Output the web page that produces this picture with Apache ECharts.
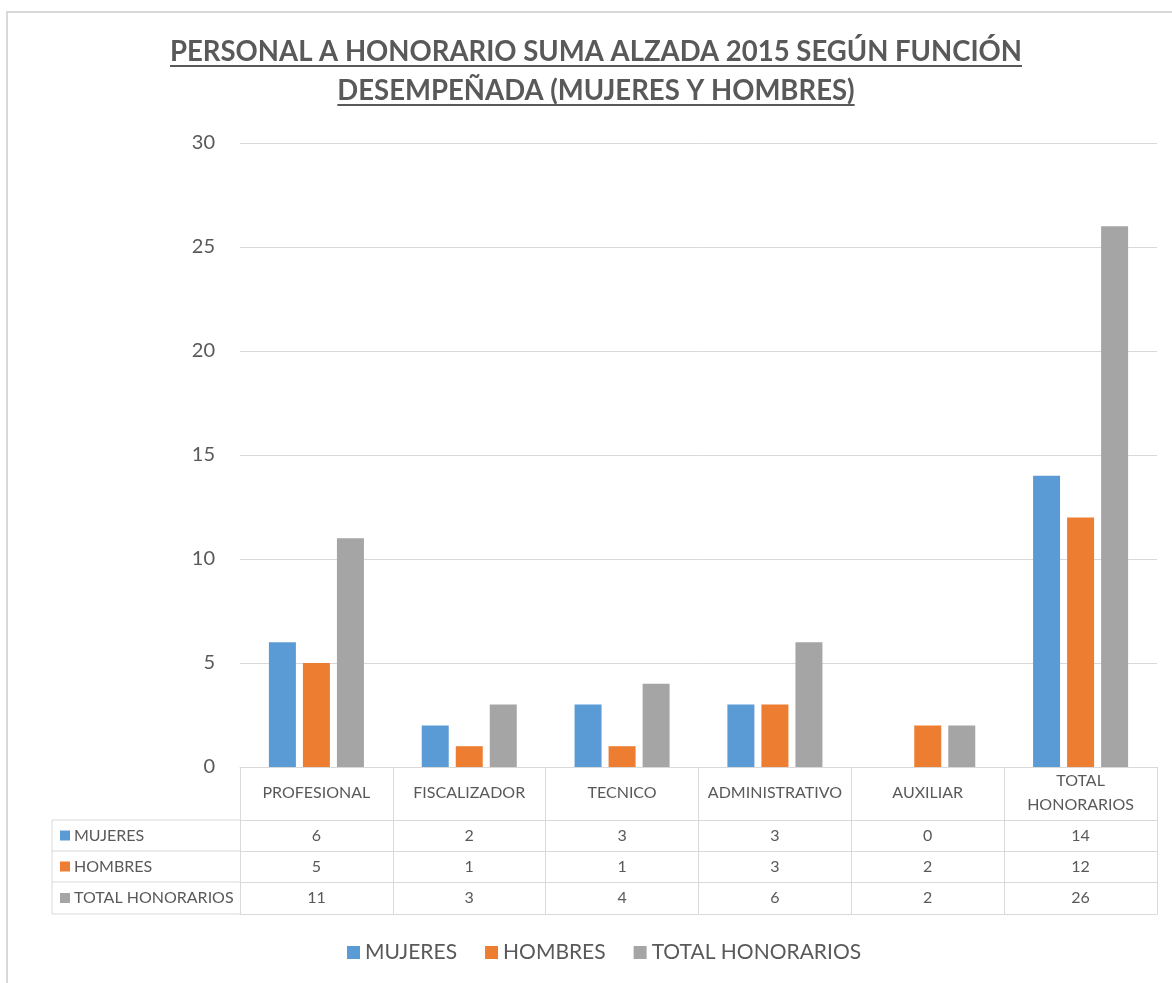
<!DOCTYPE html>
<html>
<head>
<meta charset="utf-8">
<title>Personal a honorario suma alzada 2015</title>
<script src="https://cdn.jsdelivr.net/npm/echarts@6/dist/echarts.min.js"></script>
<style>
	html, body { margin: 0; padding: 0; background: #fff; }
	#barEchart { width: 1172px; height: 983px; }
</style>
</head>
<body>
<div id="barEchart"></div>
<script>
// datos del gráfico
var categorias = [ 'PROFESIONAL', 'FISCALIZADOR', 'TECNICO', 'ADMINISTRATIVO', 'AUXILIAR', 'TOTAL\nHONORARIOS' ];
var nombresSeries = [ 'MUJERES', 'HOMBRES', 'TOTAL HONORARIOS' ];
var mujeres = [ 6, 2, 3, 3, 0, 14 ];
var hombres = [ 5, 1, 1, 3, 2, 12 ];
var totalHonorarios = [ 11, 3, 4, 6, 2, 26 ];
var yMin = 0, yMax = 30, yPaso = 5;
var tituloLineas = [ 'PERSONAL A HONORARIO SUMA ALZADA 2015 SEGÚN FUNCIÓN', 'DESEMPEÑADA (MUJERES Y HOMBRES)' ];

var colores = [ '#5B9BD5', '#ED7D31', '#A5A5A5' ];
var gris = '#595959';
var borde = '#d9d9d9';
var fuente = 'Lato';

var myChart = echarts.init(document.getElementById('barEchart'));

// filas de la tabla de datos
var filas = [ mujeres, hombres, totalHonorarios ];
var ejeY0 = 767;            // línea del cero (abajo del grid)
var offsetsFila = [ 53, 84, 115, 147 ];  // líneas horizontales de la tabla
var tablaIzq = 52, gridIzq = 240;

function anchoTexto(str, font) {
	var ctx = document.createElement('canvas').getContext('2d');
	ctx.font = font;
	return ctx.measureText(str).width;
}

// ejes X: el primero es la cabecera, los otros son las filas de la tabla
var xAxes = [ {
	type : 'category',
	data : categorias,
	position : 'bottom',
	axisLine : { lineStyle : { color : borde, width : 1 } },
	axisTick : { show : true, interval : 0, length : offsetsFila[3], lineStyle : { color : borde } },
	axisLabel : { interval : 0, margin : 26, verticalAlign : 'middle', fontSize : 16, lineHeight : 24, color : gris, fontFamily : fuente },
	splitLine : { show : false }
} ];
for (var k = 0; k < 4; k++) {
	(function(k) {
		xAxes.push({
			type : 'category',
			data : categorias,
			position : 'bottom',
			offset : offsetsFila[k],
			axisLine : { lineStyle : { color : borde, width : 1 } },
			axisTick : { show : false },
			axisLabel : {
				show : k < 3,
				interval : 0,
				margin : 15.5,
				verticalAlign : 'middle',
				fontSize : 16,
				color : gris,
				fontFamily : fuente,
				formatter : function(v, i) { return k < 3 ? String(filas[k][i]) : ''; }
			},
			splitLine : { show : false }
		});
	})(k);
}

// columna izquierda de la tabla (leyenda de filas)
var graficos = [ {
	type : 'rect',
	z : -10,
	shape : { x : 7, y : 12, width : 1300, height : 1100 },
	style : { fill : 'none', stroke : borde, lineWidth : 2 }
}, {
	type : 'line',
	shape : { x1 : tablaIzq, y1 : ejeY0 + offsetsFila[0], x2 : tablaIzq, y2 : ejeY0 + offsetsFila[3] },
	style : { stroke : borde, lineWidth : 1 }
} ];
for (var r = 0; r < 4; r++) {
	graficos.push({
		type : 'line',
		shape : { x1 : tablaIzq, y1 : ejeY0 + offsetsFila[r], x2 : gridIzq, y2 : ejeY0 + offsetsFila[r] },
		style : { stroke : borde, lineWidth : 1 }
	});
}
for (var s = 0; s < 3; s++) {
	var yc = ejeY0 + (offsetsFila[s] + offsetsFila[s + 1]) / 2;
	graficos.push({
		type : 'rect',
		shape : { x : 60, y : yc - 5, width : 10, height : 10 },
		style : { fill : colores[s] }
	});
	graficos.push({
		type : 'text',
		x : 74, y : yc,
		style : { text : nombresSeries[s], font : '16px ' + fuente, fill : gris, verticalAlign : 'middle', textAlign : 'left' }
	});
}

// título subrayado
var fuenteTitulo = 'bold 28px ' + fuente;
var anchoObjetivo = 852;
var escala = Math.min(1, anchoObjetivo / anchoTexto(tituloLineas[0], fuenteTitulo));
var yTitulo = [ 52, 91 ];
for (var t = 0; t < tituloLineas.length; t++) {
	var w = anchoTexto(tituloLineas[t], fuenteTitulo) * escala;
	graficos.push({
		type : 'text',
		x : 596, y : yTitulo[t],
		scaleX : escala,
		style : { text : tituloLineas[t], font : fuenteTitulo, fill : gris, textAlign : 'center', verticalAlign : 'middle' }
	});
	graficos.push({
		type : 'line',
		shape : { x1 : 596 - w / 2, y1 : yTitulo[t] + 14, x2 : 596 + w / 2, y2 : yTitulo[t] + 14 },
		style : { stroke : gris, lineWidth : 2 }
	});
}

var series = [];
var datos = [ mujeres, hombres, totalHonorarios ];
for (var j = 0; j < 3; j++) {
	series.push({
		name : nombresSeries[j],
		type : 'bar',
		xAxisIndex : 0,
		barWidth : 27,
		barGap : '26%',
		itemStyle : { color : colores[j] },
		data : datos[j]
	});
}

var option = {
	animation : false,
	backgroundColor : '#fff',
	color : colores,
	textStyle : { fontFamily : fuente },
	grid : { left : gridIzq, right : 15, top : 143, bottom : 983 - ejeY0 },
	legend : {
		data : nombresSeries,
		top : 937,
		left : 342,
		icon : 'rect',
		itemWidth : 13,
		itemHeight : 13,
		itemGap : 28,
		textStyle : { fontSize : 21, color : gris, fontFamily : fuente }
	},
	xAxis : xAxes,
	yAxis : {
		type : 'value',
		min : yMin,
		max : yMax,
		interval : yPaso,
		axisLine : { show : false },
		axisTick : { show : false },
		axisLabel : { fontSize : 20, color : gris, margin : 25, fontFamily : fuente },
		splitLine : { lineStyle : { color : borde, width : 1 } }
	},
	graphic : graficos,
	series : series
};

myChart.setOption(option);
</script>
</body>
</html>
